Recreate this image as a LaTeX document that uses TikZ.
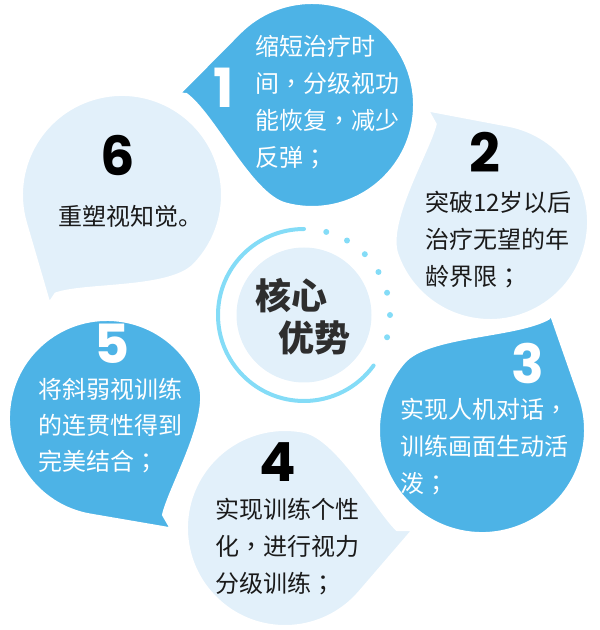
\documentclass[tikz,border=0pt]{standalone}
\usepackage{fontspec}
\setmainfont{Noto Sans CJK SC}
\newfontfamily\numfont{Poppins}
\newfontfamily\tcpunct{Noto Sans CJK TC}
\usetikzlibrary{positioning}
\definecolor{dropdark}{HTML}{4DB3E6}
\definecolor{droplight}{HTML}{E2F0FA}
\definecolor{ringcyan}{HTML}{84DCF7}
\definecolor{inkdark}{HTML}{1A1A1A}
\definecolor{coreink}{HTML}{2E2E2E}

% centred full-width punctuation
\newcommand{\zc}{{\tcpunct ，}}
\newcommand{\zs}{{\tcpunct ；}}

% teardrop: centre x, centre y, radius, tip angle, fill
\newcommand{\drop}[5]{%
  \filldraw[fill=#5, draw=white, line width=2pt, shift={(#1,#2)}, rotate=#4, scale=#3]
    (1.3,0) -- (0.769,-0.639) arc[start angle=-39.7, end angle=-280, radius=1]
    .. controls (0.519,0.924) and (0.942,0.179) .. cycle;}

\begin{document}
\begin{tikzpicture}[x=1pt, y=1pt,
 num/.style={font=\numfont\bfseries\fontsize{54}{54}\selectfont, inner sep=0pt},
 wtxt/.style={anchor=base west, inner sep=0pt, text=white, font=\fontsize{24}{24}\selectfont},
 btxt/.style={wtxt, text=inkdark},
 core/.style={font=\bfseries\fontsize{36}{36}\selectfont, text=coreink, inner sep=0pt}]
\useasboundingbox (0,0) rectangle (600,630);
% six drops
\drop{312}{525}{102}{175}{dropdark}
\drop{490}{408}{98}{119}{droplight}
\drop{482}{200}{103}{59}{dropdark}
\drop{285}{102}{98}{-1}{droplight}
\drop{107}{212}{98}{-60}{dropdark}
\drop{122}{435}{100}{-124}{droplight}
% centre
\coordinate (ctr) at (304,315);
\node[circle, fill=droplight, minimum size=135pt, inner sep=0pt] (hub) at (ctr) {};
\draw[ringcyan, line width=4pt, line cap=round] (ctr) ++(90:86) arc[start angle=90, end angle=324, radius=86];
\foreach \a in {75,60,...,-15}
  \fill[ringcyan] (ctr) ++(\a:86) circle[radius=3];
\node[core] (core1) at (291,334) {核心};
\node[core] (core2) at (314,292) {优势};
% numbers
\node[num, text=white] (n1) at (224,542) {1};
\node[num, text=black] (n2) at (485,478) {2};
\node[num, text=white] (n3) at (528,267) {3};
\node[num, text=black] (n4) at (278,168) {4};
\node[num, text=white] (n5) at (112,286) {5};
\node[num, text=black] (n6) at (118,475) {6};
% texts
\foreach \t [count=\i] in {缩短治疗时,间\zc 分级视功,能恢复\zc 减少,反弹\zs}
  \node[wtxt] (t1-\i) at (255,{574-37*(\i-1)}) {\t};
\foreach \t [count=\i] in {突破12岁以后,治疗无望的年,龄界限\zs}
  \node[btxt] (t2-\i) at (425,{418-37*(\i-1)}) {\t};
\foreach \t [count=\i] in {实现人机对话\zc,训练画面生动活,泼\zs}
  \node[wtxt] (t3-\i) at (400,{211-37*(\i-1)}) {\t};
\foreach \t [count=\i] in {实现训练个性,化\zc 进行视力,分级训练\zs}
  \node[btxt] (t4-\i) at (215,{111-37*(\i-1)}) {\t};
\foreach \t [count=\i] in {将斜弱视训练,的连贯性得到,完美结合\zs}
  \node[wtxt] (t5-\i) at (38,{231-36*(\i-1)}) {\t};
\node[btxt] (t6-1) at (58,404) {重塑视知觉。};
\end{tikzpicture}
\end{document}
